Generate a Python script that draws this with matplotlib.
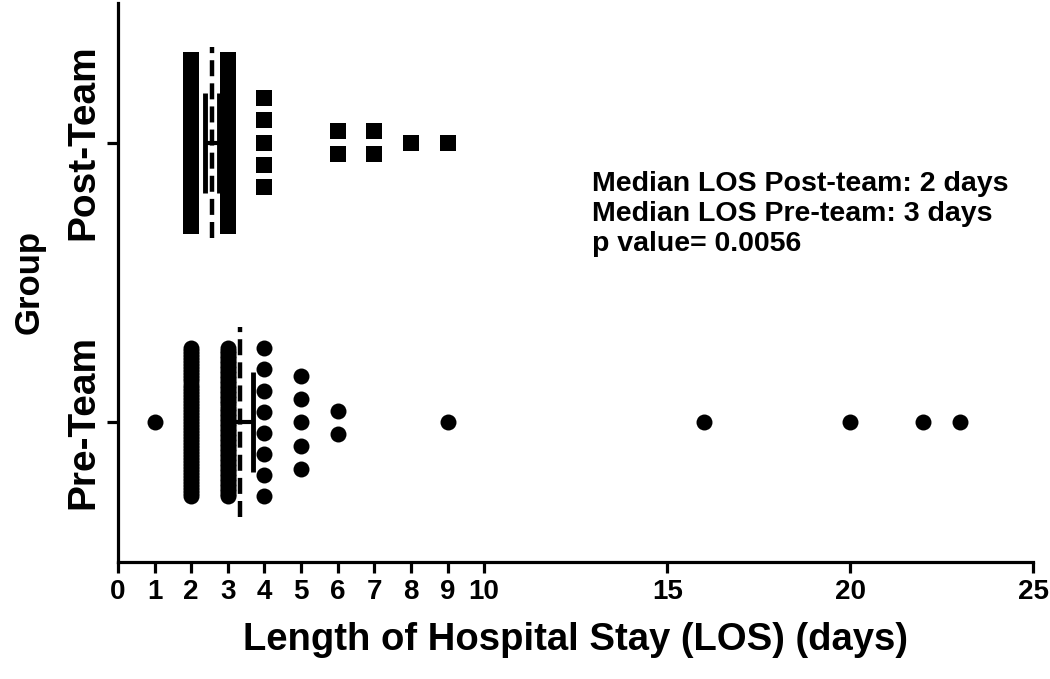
import numpy as np
import matplotlib
matplotlib.use('Agg')
import matplotlib.pyplot as plt

plt.rcParams['font.family'] = ['Liberation Sans', 'DejaVu Sans']
plt.rcParams['font.weight'] = 'bold'

# LOS values (days) and how many patients had each
pre_days = [1, 2, 3, 4, 5, 6, 9, 16, 20, 22, 23]
pre_counts = [1, 50, 60, 8, 5, 2, 1, 1, 1, 1, 1]
post_days = [2, 3, 4, 6, 7, 8, 9]
post_counts = [75, 28, 5, 2, 2, 1, 1]

groups = ['Pre-Team', 'Post-Team']
means = [3.33, 2.57]
errs = [0.36, 0.19]
xticks = [0, 1, 2, 3, 4, 5, 6, 7, 8, 9, 10, 15, 20, 25]

note = ('Median LOS Post-team: 2 days\n'
        'Median LOS Pre-team: 3 days\n'
        'p value= 0.0056')


def stack(days, counts, y0, step, maxhalf):
    # prism-style: spread equal values across y, squeeze when too many
    xs, ys = [], []
    for d, n in zip(days, counts):
        h = min((n - 1) / 2 * step, maxhalf)
        off = np.linspace(-h, h, n) if n > 1 else np.array([0.0])
        xs += [d] * n
        ys += list(y0 + off)
    return xs, ys


fig = plt.figure(figsize=(10.5, 6.79), dpi=100)
ax = fig.add_axes([0.1124, 0.172, 0.8717, 0.824])

x, y = stack(pre_days, pre_counts, 0, 0.083, 0.265)
ax.plot(x, y, 'o', color='black', ms=11.5, mew=0, zorder=2)
x, y = stack(post_days, post_counts, 1, 0.080, 0.297)
ax.plot(x, y, 's', color='black', ms=11.5, mew=0, zorder=2)

for i, (m, e) in enumerate(zip(means, errs)):
    ax.plot([m, m], [i - 0.34, i + 0.34], color='black', lw=3.2,
            ls=(0, (3.6, 1.6)), zorder=3)
    ax.errorbar(m, i, xerr=e, fmt='none', ecolor='black', elinewidth=3,
                capsize=36, capthick=3.5, zorder=3)

ax.text(12.95, 0.9, note, fontsize=20.5, fontweight='bold', va='top',
        ha='left', linespacing=1.2)

ax.set_xlim(0, 25)
ax.set_ylim(-0.5, 1.5)
ax.set_xticks(xticks)
ax.set_xticklabels([str(t) for t in xticks], fontsize=20, fontweight='bold')
ax.set_yticks([0, 1])
ax.set_yticklabels(groups, fontsize=28, fontweight='bold', rotation=90,
                   va='center')
ax.set_xlabel('Length of Hospital Stay (LOS) (days)', fontsize=27.5,
              fontweight='bold', labelpad=12)
ax.set_ylabel('Group', fontsize=25, fontweight='bold', labelpad=14)

ax.spines['top'].set_visible(False)
ax.spines['right'].set_visible(False)
for s in ['left', 'bottom']:
    ax.spines[s].set_linewidth(2.3)
ax.tick_params(width=2.3, length=8, pad=4)

fig.savefig('out.png', dpi=100)
